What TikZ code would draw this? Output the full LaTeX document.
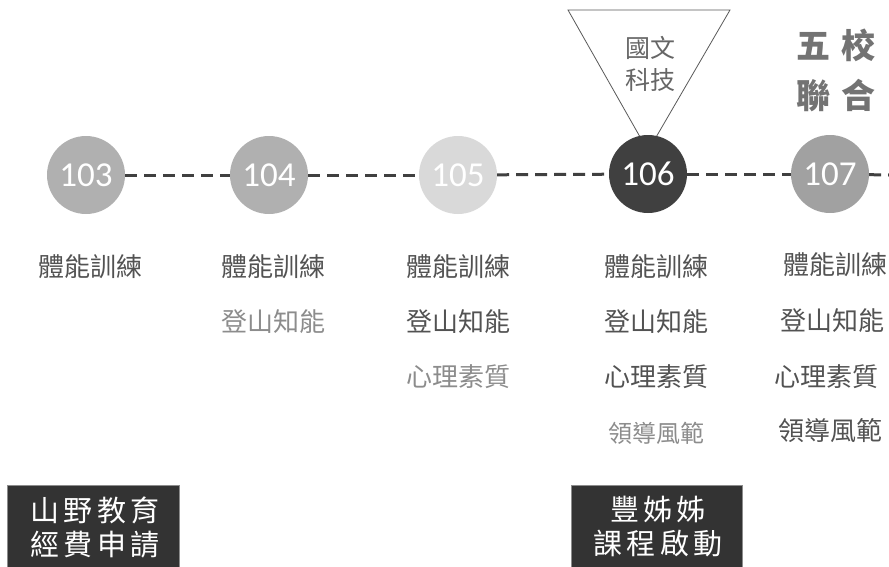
\documentclass[tikz,border=0pt]{standalone}
\usepackage{fontspec}
\setmainfont{Carlito}
\newfontfamily\cjk{Noto Sans CJK TC}
\newfontfamily\cjkwide[LetterSpace=30]{Noto Sans CJK TC}
\newfontfamily\cjkbox[LetterSpace=14]{Noto Sans CJK TC}
\begin{document}
\begin{tikzpicture}[x=1pt,y=-1pt,
  yr/.style={circle,minimum size=78pt,inner sep=0pt,text=white,font=\fontsize{35}{35}\selectfont},
  link/.style={draw=black!75,line width=3pt,dash pattern=on 12pt off 7pt},
  item/.style={font=\cjk\fontsize{26}{26}\selectfont,text=black!68,inner sep=0pt},
  newitem/.style={item,text=black!45},
  blk/.style={fill=black!80,draw=black!45,line width=0.6pt},
  blktext/.style={font=\cjkbox\fontsize{29}{34}\selectfont,text=white,align=center,inner sep=0pt}]
\useasboundingbox (0,0) rectangle (889,566);
% triangle behind 106
\coordinate (t1) at (568,10);
\coordinate (t2) at (730,10);
\coordinate (t3) at (648,151);
\draw[black!65,line width=0.8pt,fill=white] (t1) -- (t2) -- (t3) -- cycle;
\node[font=\cjk\fontsize{25}{32}\selectfont,text=black!60,align=center,inner sep=0pt] (tri) at (650,64) {國文\\科技};
\node[font=\cjkwide\bfseries\fontsize{34}{50}\selectfont,text=black!55,align=center,inner sep=0pt] (five) at (836,70) {五校\\聯合};
% circles
\node[yr,fill=black!31] (c103) at (86,175) {103};
\node[yr,fill=black!31] (c104) at (269,175) {104};
\node[yr,fill=black!15] (c105) at (458,175) {105};
\node[yr,fill=black!75] (c106) at (648,174) {106};
\node[yr,fill=black!37] (c107) at (830,174) {107};
\coordinate (endr) at (889,175);
\draw[link] (c103) -- (c104);
\draw[link] (c104) -- (c105);
\draw[link] (c105) -- (c106);
\draw[link] (c106) -- (c107);
\draw[link] (c107) -- (endr);
% items
\node[item] (a1) at (90,267) {體能訓練};
\node[item] (b1) at (273,267) {體能訓練};
\node[newitem] (b2) at (273,322) {登山知能};
\node[item] (c1) at (458,267) {體能訓練};
\node[item] (c2) at (458,322) {登山知能};
\node[newitem] (c3) at (458,377) {心理素質};
\node[item] (d1) at (656,267) {體能訓練};
\node[item] (d2) at (656,322) {登山知能};
\node[item] (d3) at (656,377) {心理素質};
\node[newitem,font=\cjk\fontsize{24}{24}\selectfont] (d4) at (656,433) {領導風範};
\node[item] (e1) at (835,265) {體能訓練};
\node[item] (e2) at (832,321) {登山知能};
\node[item] (e3) at (826,377) {心理素質};
\node[item] (e4) at (830,431) {領導風範};
% boxes
\draw[blk] (7,485) rectangle (179,570);
\node[blktext] (box1) at (95,527) {山野教育\\經費申請};
\draw[blk] (571,485) rectangle (742,570);
\node[blktext] (box2) at (658,527) {豐姊姊\\課程啟動};
\end{tikzpicture}
\end{document}
